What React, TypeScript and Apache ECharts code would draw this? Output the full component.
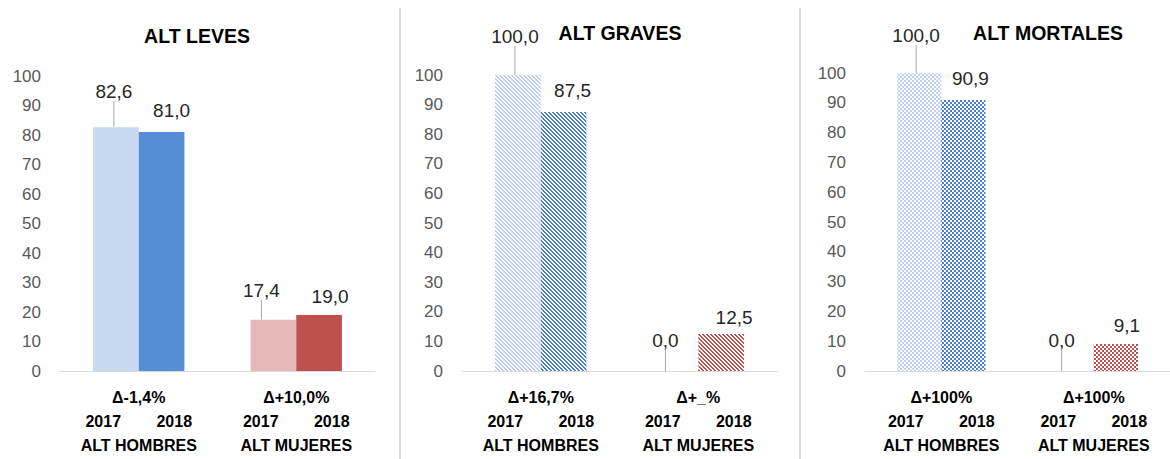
import React, { useEffect, useRef } from 'react';
import * as echarts from 'echarts';

// ---- data ----
const categories = ['ALT HOMBRES', 'ALT MUJERES'];
const years = ['2017', '2018'];
const panelTitles = ['ALT LEVES', 'ALT GRAVES', 'ALT MORTALES'];
const leves2017 = [82.6, 17.4];
const leves2018 = [81.0, 19.0];
const graves2017 = [100.0, 0.0];
const graves2018 = [87.5, 12.5];
const mortales2017 = [100.0, 0.0];
const mortales2018 = [90.9, 9.1];
const levesDeltas = ['Δ-1,4%', 'Δ+10,0%'];
const gravesDeltas = ['Δ+16,7%', 'Δ+_%'];
const mortalesDeltas = ['Δ+100%', 'Δ+100%'];
const yMin = 0;
const yMax = 100;
const yInterval = 10;

// ---- styles ----
const FONT = '"Liberation Sans", Arial, sans-serif';
const grids = [
  { left: 60, width: 315, top: 76, height: 295 },
  { left: 462, width: 315, top: 75, height: 296 },
  { left: 865, width: 313, top: 73, height: 298 },
];
const titlePos = [
  [197, 36],
  [620, 33],
  [1048, 33],
];
// label offsets [series][item] = [dx, dy]
const labelOffsets = [
  [[[-2, -21], [-12, -15]], [[10, -7], [11, -4]]],
  [[[-3, -24], [-10, -16]], [[9, -7], [13, -2]]],
  [[[-3, -23], [-10, -16]], [[7, -7], [11, -4]]],
];
const leaderShow = [
  [[true, true], [false, false]],
  [[true, true], [false, false]],
  [[true, true], [false, false]],
];

function makePattern(color: string, kind: 'stripe' | 'check') {
  const size = 4;
  const c = document.createElement('canvas');
  c.width = size;
  c.height = size;
  const ctx = c.getContext('2d')!;
  ctx.fillStyle = '#ffffff';
  ctx.fillRect(0, 0, size, size);
  ctx.fillStyle = color;
  for (let y = 0; y < size; y++) {
    for (let x = 0; x < size; x++) {
      const on = kind === 'stripe' ? (x - y + 8) % 4 < 2 : ((x >> 1) + (y >> 1)) % 2 === 0;
      if (on) ctx.fillRect(x, y, 1, 1);
    }
  }
  return { image: c.toDataURL(), imageWidth: size, imageHeight: size, repeat: 'repeat' };
}

export default function App() {
  const ref = useRef<HTMLDivElement>(null);
  useEffect(() => {
    if (!ref.current) return;
    const chart = echarts.init(ref.current, undefined, { renderer: 'svg' });

    const colors: any[] = [
      [
        ['#c6d9f1', '#e6b9b8'],
        ['#558ed5', '#c0504d'],
      ],
      [
        [makePattern('#b9cfee', 'stripe'), makePattern('#b9cfee', 'stripe')],
        [makePattern('#4a7fd0', 'stripe'), makePattern('#c0504d', 'stripe')],
      ],
      [
        [makePattern('#bcd2ef', 'check'), makePattern('#bcd2ef', 'check')],
        [makePattern('#4a7fd0', 'check'), makePattern('#c0504d', 'check')],
      ],
    ];
    const panelData = [
      [leves2017, leves2018],
      [graves2017, graves2018],
      [mortales2017, mortales2018],
    ];
    const deltas = [levesDeltas, gravesDeltas, mortalesDeltas];

    const series: any[] = [];
    panelData.forEach((pd, p) => {
      pd.forEach((vals, s) => {
        series.push({
          type: 'bar',
          name: years[s],
          xAxisIndex: p,
          yAxisIndex: p,
          barGap: '0%',
          barCategoryGap: '42%',
          data: vals.map((v, i) => ({
            value: v,
            itemStyle: { color: colors[p][s][i] },
            labelLine: {
              show: leaderShow[p][s][i],
              lineStyle: { color: '#a6a6a6', width: 1 },
            },
          })),
          label: {
            show: true,
            position: 'top',
            distance: 5,
            formatter: (prm: any) => Number(prm.value).toFixed(1).replace('.', ','),
            fontFamily: FONT,
            fontSize: 19,
            color: '#262626',
          },
          labelLine: { lineStyle: { color: '#a6a6a6', width: 1 } },
          labelLayout: (prm: any) => ({
            dx: labelOffsets[p][s][prm.dataIndex][0],
            dy: labelOffsets[p][s][prm.dataIndex][1],
          }),
        });
      });
    });

    const boldText = { fontFamily: FONT, fontWeight: 'bold', fontSize: 16, color: '#000', lineHeight: 24 };

    chart.setOption({
      animation: false,
      grid: grids.map((g) => ({ ...g, containLabel: false })),
      xAxis: grids.map((_, p) => ({
        type: 'category',
        gridIndex: p,
        data: categories,
        axisTick: { show: false },
        axisLine: { show: true, lineStyle: { color: '#d9d9d9', width: 1 } },
        axisLabel: {
          margin: 14,
          interval: 0,
          formatter: (value: string, idx: number) =>
            `{d|${deltas[p][idx]}}\n{y|${years[0]}}{y|${years[1]}}\n{n|${value}}`,
          rich: {
            d: { ...boldText },
            y: { ...boldText, width: 71, align: 'center' },
            n: { ...boldText },
          },
        },
      })),
      yAxis: grids.map((_, p) => ({
        type: 'value',
        gridIndex: p,
        min: yMin,
        max: yMax,
        interval: yInterval,
        axisLine: { show: false },
        axisTick: { show: false },
        splitLine: { show: false },
        axisLabel: { margin: 19, fontFamily: FONT, fontSize: 17, color: '#595959' },
      })),
      series,
      graphic: [
        ...panelTitles.map((t, p) => ({
          type: 'text',
          x: titlePos[p][0],
          y: titlePos[p][1],
          style: {
            text: t,
            fontFamily: FONT,
            fontWeight: 'bold',
            fontSize: 19.5,
            fill: '#000',
            align: 'center',
            verticalAlign: 'middle',
          },
        })),
        { type: 'line', shape: { x1: 400, y1: 8, x2: 400, y2: 459 }, style: { stroke: '#dedede', lineWidth: 2 } },
        { type: 'line', shape: { x1: 800, y1: 8, x2: 800, y2: 459 }, style: { stroke: '#dedede', lineWidth: 2 } },
      ],
    });
    return () => chart.dispose();
  }, []);
  return (
    <div
      ref={ref}
      style={{ position: 'fixed', left: 0, top: 0, width: 1170, height: 459, background: '#fff' }}
    />
  );
}
